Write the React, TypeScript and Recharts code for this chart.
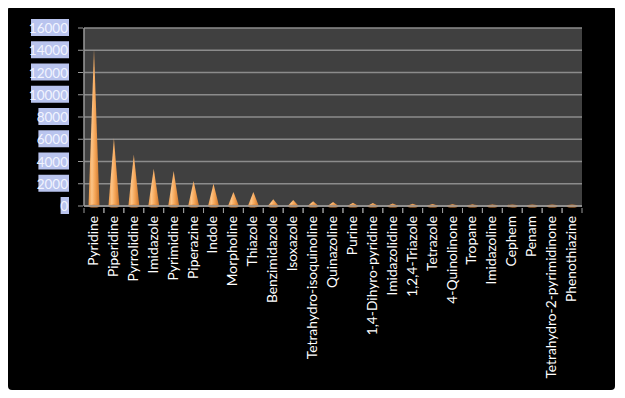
import { BarChart, Bar, XAxis, YAxis, CartesianGrid } from 'recharts';

const compounds = [
  'Pyridine', 'Piperidine', 'Pyrrolidine', 'Imidazole', 'Pyrimidine', 'Piperazine',
  'Indole', 'Morpholine', 'Thiazole', 'Benzimidazole', 'Isoxazole',
  'Tetrahydro-isoquinoline', 'Quinazoline', 'Purine', '1,4-Dihyro-pyridine',
  'Imidazolidine', '1,2,4-Triazole', 'Tetrazole', '4-Quinolinone', 'Tropane',
  'Imidazoline', 'Cephem', 'Penam', 'Tetrahydro-2-pyrimidinone', 'Phenothiazine',
];

const counts = [
  14100, 6100, 4600, 3350, 3150, 2250, 2000, 1250, 1250, 600, 550,
  420, 360, 300, 260, 230, 210, 190, 160, 140, 120, 100, 90, 80, 70,
];

const yTicks = [0, 2000, 4000, 6000, 8000, 10000, 12000, 14000, 16000];

const data = compounds.map((name, i) => ({ name, value: counts[i] }));

const FONT = 'Lato, "Liberation Sans", sans-serif';

// cone drawn as a shaded triangle
const Cone = (props: any) => {
  const { x, y, width, height } = props;
  if (height == null || height <= 0) return null;
  const cx = x + width / 2;
  const half = 5.5;
  const base = y + height;
  return (
    <g>
      <polygon
        points={`${cx - half},${base} ${cx},${y} ${cx + half},${base}`}
        fill="url(#coneFill)"
      />
      <ellipse cx={cx} cy={base} rx={half} ry={1.5} fill="#d8843a" />
    </g>
  );
};

const YTick = (props: any) => {
  const { x, y, payload } = props;
  const label = String(payload.value);
  const w = label.length * 7.4 + 1;
  return (
    <g>
      <line x1={x + 2} y1={y} x2={x + 7} y2={y} stroke="#9a9a9a" />
      <rect x={x - 7 - w} y={y - 9} width={w} height={17} fill="#b9c4ee" />
      <text
        x={x - 8}
        y={y + 5}
        textAnchor="end"
        fill="#f2f4ff"
        fontSize={13.5}
        fontFamily={FONT}
      >
        {label}
      </text>
    </g>
  );
};

const XTick = (props: any) => {
  const { x, y, payload } = props;
  const half = 9.96;
  return (
    <g>
      <line x1={x - half} y1={y - 6} x2={x - half} y2={y - 1} stroke="#9a9a9a" />
      <line x1={x + half} y1={y - 6} x2={x + half} y2={y - 1} stroke="#9a9a9a" />
      <text
        x={x + 4}
        y={y + 2}
        transform={`rotate(-90, ${x + 4}, ${y + 2})`}
        textAnchor="end"
        fill="#ffffff"
        fontSize={13.8}
        fontFamily={FONT}
      >
        {payload.value}
      </text>
    </g>
  );
};

export default function App() {
  return (
    <div
      style={{
        width: 607,
        height: 384,
        marginTop: -2,
        background: '#000',
        borderRadius: 4,
        position: 'relative',
      }}
    >
      <BarChart
        width={607}
        height={384}
        data={data}
        margin={{ top: 22, right: 33, bottom: 4, left: 0 }}
        barCategoryGap={4}
      >
        <defs>
          <linearGradient id="coneFill" x1="0" y1="0" x2="1" y2="0">
            <stop offset="0%" stopColor="#e8923f" />
            <stop offset="30%" stopColor="#fcc487" />
            <stop offset="60%" stopColor="#f5a455" />
            <stop offset="100%" stopColor="#c8732c" />
          </linearGradient>
        </defs>
        <CartesianGrid
          vertical={false}
          stroke="#8c8c8c"
          strokeWidth={1.5}
          fill="#404040"
          fillOpacity={1}
        />
        <XAxis
          dataKey="name"
          interval={0}
          height={180}
          tickLine={false}
          axisLine={{ stroke: '#9a9a9a', strokeWidth: 1.5 }}
          tick={<XTick />}
        />
        <YAxis
          width={76}
          domain={[0, 16000]}
          ticks={yTicks}
          interval={0}
          tickLine={false}
          axisLine={{ stroke: '#9a9a9a', strokeWidth: 1.5 }}
          tick={<YTick />}
        />
        <Bar dataKey="value" shape={<Cone />} isAnimationActive={false} />
      </BarChart>
    </div>
  );
}
